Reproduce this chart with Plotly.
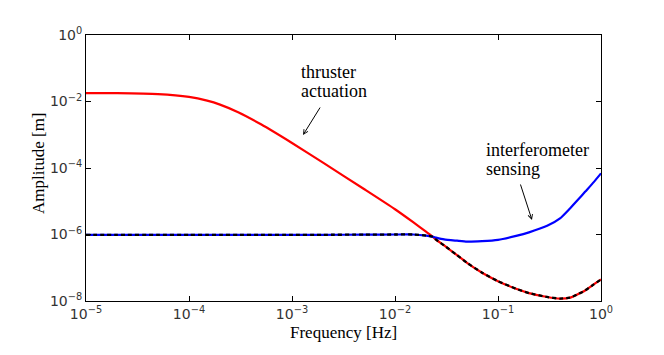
import plotly.graph_objects as go

# Frequencies [Hz]
freq = [1e-5, 2e-5, 5e-5, 1e-4, 1.5e-4, 2e-4, 3e-4, 5e-4, 1e-3, 2e-3, 5e-3,
        1e-2, 1.5e-2, 2e-2, 2.34e-2, 2.5e-2, 3e-2, 4e-2, 5e-2, 7e-2, 0.1,
        0.15, 0.2, 0.3, 0.4, 0.5, 0.6, 0.7, 0.85, 1.0]

# thruster actuation (red)
thruster = [1.79e-2, 1.78e-2, 1.67e-2, 1.375e-2, 1.06e-2, 8.05e-3, 4.76e-3, 2.06e-3,
            5.65e-4, 1.45e-4, 2.33e-5, 5.75e-6, 2.35e-6, 1.22e-6, 8.5e-7, 7.0e-7,
            4.7e-7, 2.39e-7, 1.41e-7, 7.1e-8, 3.95e-8, 2.33e-8, 1.73e-8, 1.32e-8,
            1.18e-8, 1.26e-8, 1.62e-8, 2.07e-8, 3.15e-8, 4.45e-8]

# interferometer sensing (blue)
interferometer = [9.8e-7, 9.8e-7, 9.8e-7, 9.8e-7, 9.8e-7, 9.8e-7, 9.8e-7, 9.8e-7,
                  9.8e-7, 9.8e-7, 9.9e-7, 1.0e-6, 1.0e-6, 9.3e-7, 8.5e-7, 8.05e-7,
                  7.1e-7, 6.5e-7, 6.1e-7, 6.3e-7, 6.9e-7, 9.1e-7, 1.16e-6, 1.82e-6,
                  3.05e-6, 6.1e-6, 1.12e-5, 1.92e-5, 3.76e-5, 6.9e-5]

# combined (black dashed)
combined = [9.8e-7, 9.8e-7, 9.8e-7, 9.8e-7, 9.8e-7, 9.8e-7, 9.8e-7, 9.8e-7,
            9.8e-7, 9.8e-7, 9.9e-7, 1.0e-6, 1.0e-6, 9.3e-7, 8.5e-7, 7.0e-7,
            4.7e-7, 2.39e-7, 1.41e-7, 7.1e-8, 3.95e-8, 2.33e-8, 1.73e-8, 1.32e-8,
            1.18e-8, 1.26e-8, 1.62e-8, 2.07e-8, 3.15e-8, 4.45e-8]

x_tickvals = [1e-5, 1e-4, 1e-3, 1e-2, 1e-1, 1]
x_ticktext = ["10<sup>−5</sup>", "10<sup>−4</sup>", "10<sup>−3</sup>",
              "10<sup>−2</sup>", "10<sup>−1</sup>", "10<sup>0</sup>"]
y_tickvals = [1e-8, 1e-6, 1e-4, 1e-2, 1]
y_ticktext = ["10<sup>−8</sup>", "10<sup>−6</sup>", "10<sup>−4</sup>",
              "10<sup>−2</sup>", "10<sup>0</sup>"]

serif = "Liberation Serif"
tickfont = dict(family="DejaVu Sans", size=14, color="#333")

# The page body has an 8px margin, so the figure is shifted by 8px.
OFF = 8
W, H = 656, 347
L, T = 86 - OFF, 35 - OFF
R = W - (601 - OFF)
B = H - (301 - OFF)
pw, ph = W - L - R, H - T - B


def px(x):
    return (x - OFF - L) / pw


def py(y):
    return (H - B - (y - OFF)) / ph


fig = go.Figure()
fig.add_trace(go.Scatter(x=freq, y=thruster, mode="lines",
                         line=dict(color="#ff0000", width=2.2, shape="spline", smoothing=0.5)))
fig.add_trace(go.Scatter(x=freq, y=interferometer, mode="lines",
                         line=dict(color="#0000ff", width=2.2, shape="spline", smoothing=0.5)))
fig.add_trace(go.Scatter(x=freq, y=combined, mode="lines",
                         line=dict(color="black", width=2.3, dash="4px,3px", shape="spline", smoothing=0.5)))

axis_common = dict(type="log", showgrid=False, zeroline=False, showline=True,
                   linecolor="black", linewidth=1, mirror="ticks", ticks="inside",
                   ticklen=5, tickcolor="black", tickfont=tickfont, automargin=False,
                   tickmode="array")

fig.update_layout(
    width=W, height=H,
    margin=dict(l=L, r=R, t=T, b=B),
    plot_bgcolor="white", paper_bgcolor="white",
    showlegend=False,
    xaxis=dict(range=[-5, 0], tickvals=x_tickvals, ticktext=x_ticktext, **axis_common),
    yaxis=dict(range=[-8, 0], tickvals=y_tickvals, ticktext=y_ticktext, **axis_common),
)

titlefont = dict(family=serif, size=17, color="black")
fig.add_annotation(x=px(343), y=py(332), xref="paper", yref="paper", text="Frequency [Hz]",
                   showarrow=False, font=titlefont, xanchor="center", yanchor="middle")
fig.add_annotation(x=px(38), y=py(163), xref="paper", yref="paper", text="Amplitude [m]",
                   showarrow=False, font=titlefont, textangle=-90, xanchor="center", yanchor="middle")

annfont = dict(family=serif, size=18, color="black")
fig.add_annotation(x=px(299), y=py(72), xref="paper", yref="paper", text="thruster",
                   showarrow=False, xanchor="left", yanchor="middle", font=annfont)
fig.add_annotation(x=px(299), y=py(91), xref="paper", yref="paper", text="actuation",
                   showarrow=False, xanchor="left", yanchor="middle", font=annfont)
fig.add_annotation(x=px(484), y=py(150), xref="paper", yref="paper", text="interferometer",
                   showarrow=False, xanchor="left", yanchor="middle", font=annfont)
fig.add_annotation(x=px(484), y=py(169), xref="paper", yref="paper", text="sensing",
                   showarrow=False, xanchor="left", yanchor="middle", font=annfont)
fig.add_annotation(x=-2.893, y=-3.008, xref="x", yref="y", text="", showarrow=True,
                   ax=18, ay=-29, arrowhead=5, arrowsize=0.9, arrowwidth=1, arrowcolor="black")
fig.add_annotation(x=-0.670, y=-5.564, xref="x", yref="y", text="", showarrow=True,
                   ax=-12, ay=-37, arrowhead=5, arrowsize=0.9, arrowwidth=1, arrowcolor="black")

fig.write_html("out.html")
